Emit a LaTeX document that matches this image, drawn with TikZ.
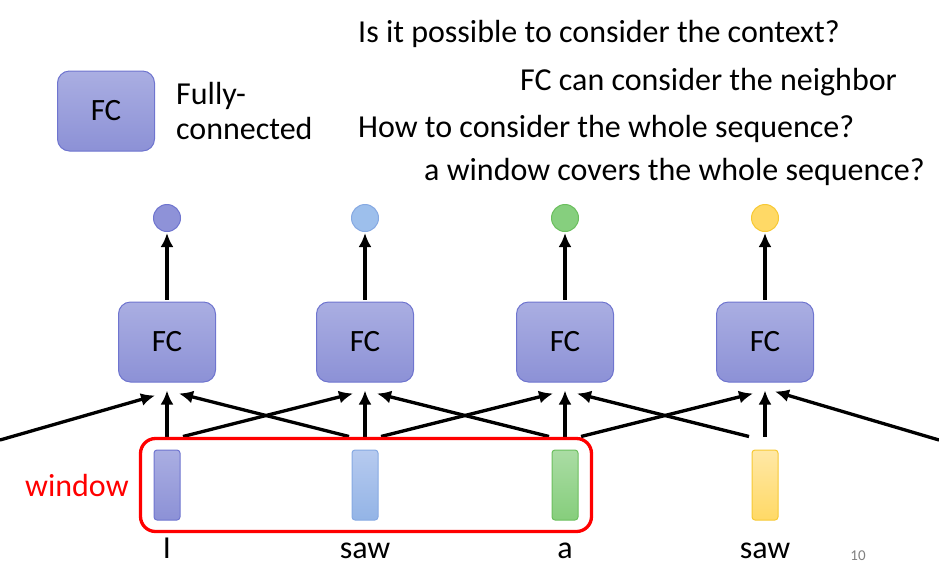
\documentclass[tikz,border=0pt]{standalone}
\usepackage{fontspec}
\setmainfont{Carlito}
\usepackage{tikz}
\usetikzlibrary{arrows.meta, positioning, fit, calc}
% box and token colours
\definecolor{puTop}{HTML}{AAAEE2}
\definecolor{puBot}{HTML}{8C91D6}
\definecolor{puEdge}{HTML}{6F75CF}
\definecolor{puDot}{HTML}{8E92D8}
\definecolor{blTop}{HTML}{B6CAEF}
\definecolor{blBot}{HTML}{93B4E6}
\definecolor{blEdge}{HTML}{86A9E2}
\definecolor{blDot}{HTML}{9DBFEC}
\definecolor{grTop}{HTML}{AADCA4}
\definecolor{grBot}{HTML}{86CE7C}
\definecolor{grEdge}{HTML}{6BBF5E}
\definecolor{grDot}{HTML}{86CF7E}
\definecolor{yeTop}{HTML}{FFE8A6}
\definecolor{yeBot}{HTML}{FFD966}
\definecolor{yeEdge}{HTML}{F7C934}
\definecolor{yeDot}{HTML}{FFD966}
\definecolor{winRed}{HTML}{FF0000}

\tikzset{
  fcbox/.style={draw=puEdge, line width=1pt, rounded corners=12pt,
    top color=puTop, bottom color=puBot, minimum width=97pt,
    minimum height=80pt, font=\fontsize{31}{36}\selectfont},
  tokbar/.style={rounded corners=3pt, minimum width=26pt,
    minimum height=70pt, line width=1pt, inner sep=0pt},
  outdot/.style={circle, minimum size=27pt, inner sep=0pt, line width=1pt},
  link/.style={line width=3.3pt, -{Latex[length=14pt,width=13pt]}},
  txt/.style={font=\fontsize{32}{35}\selectfont, inner sep=0pt},
  window/.style={draw=winRed, line width=3.3pt, rounded corners=15pt},
}

\begin{document}
\begin{tikzpicture}[x=1pt, y=-1pt]
  \useasboundingbox (0,0) rectangle (939,571);

  % legend
  \node[fcbox] (legend) at (106,111) {FC};
  \node[txt, align=left, right=21pt of legend] (legtxt) {Fully-\\connected};

  % questions
  \node[txt, anchor=base west] (q1) at (358,42) {Is it possible to consider the context?};
  \node[txt, anchor=base west] (q2) at (520,90) {FC can consider the neighbor};
  \node[txt, anchor=base west] (q3) at (358,137) {How to consider the whole sequence?};
  \node[txt, anchor=base west] (q4) at (424,180) {a window covers the whole sequence?};

  % layers
  \foreach \i/\x/\col/\word in {0/167/pu/I, 1/365/bl/saw, 2/565/gr/a, 3/765/ye/saw} {
    \node[fcbox] (fc\i) at (\x,342) {FC};
    \node[tokbar, draw=\col Edge, top color=\col Top, bottom color=\col Bot] (in\i) at (\x,485) {};
    \node[outdot, draw=\col Edge, fill=\col Dot] (out\i) at (\x,218) {};
    \node[txt, anchor=base] (w\i) at (\x,558) {\word};
    \draw[link, shorten <=2pt, shorten >=1pt] (fc\i.north) -- (out\i.south);
    \draw[link] ([yshift=13pt]in\i.north) -- ([yshift=-8pt]fc\i.south);
  }

  % neighbour links
  \foreach \i/\j in {0/1, 1/2, 2/3} {
    \draw[link] ([xshift=16pt, yshift=13pt]in\i.north) -- ([xshift=-12pt, yshift=-11pt]fc\j.south);
    \draw[link] ([xshift=-16pt, yshift=13pt]in\j.north) -- ([xshift=12pt, yshift=-11pt]fc\i.south);
  }
  \coordinate (inL) at (0,440);
  \coordinate (inR) at (939,440);
  \draw[link] (inL) -- ([xshift=-12pt, yshift=-13pt]fc0.south);
  \draw[link] (inR) -- ([xshift=10pt, yshift=-9pt]fc3.south);

  % window
  \node[window, fit=(in0)(in2), inner xsep=13pt, inner ysep=11pt] (win) {};
  \node[txt, text=winRed, left=10pt of win] (wintxt) {window};

  % page number
  \node[font=\fontsize{15}{17}\selectfont, text=gray, anchor=base] (pg) at (858,560) {10};
\end{tikzpicture}
\end{document}
